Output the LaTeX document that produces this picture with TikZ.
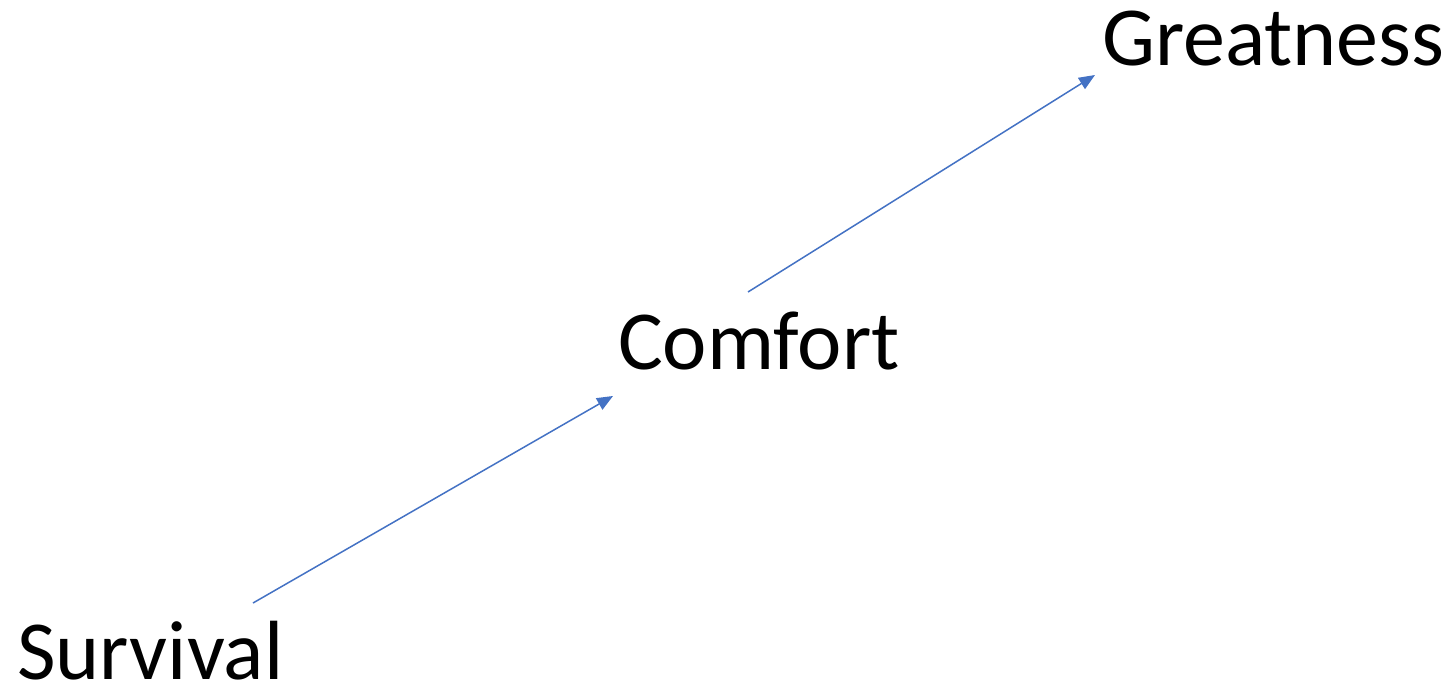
\documentclass[tikz,border=0pt]{standalone}
\usepackage{fontspec}
\setmainfont{Carlito}
\usetikzlibrary{arrows.meta}
\definecolor{arrowblue}{HTML}{4472C4}
\tikzset{
  label/.style={anchor=base west, inner sep=0pt, text depth=0pt, font=\fontsize{84bp}{100bp}\selectfont},
  link/.style={draw=arrowblue, line width=1.5bp, -{Triangle[length=16bp,width=13bp]}, fill=arrowblue}
}
\begin{document}
\begin{tikzpicture}[x=1bp,y=-1bp]
\useasboundingbox (0,0) rectangle (1455,685);
\node[label] (survival) at (17,679) {Survival};
\node[label] (comfort) at (618,369) {Comfort};
\node[label] (greatness) at (1102,66) {Greatness};
\coordinate (s1) at (253,603);
\coordinate (e1) at (613,396);
\coordinate (s2) at (748,292);
\coordinate (e2) at (1095,75);
\draw[link] (s1) -- (e1);
\draw[link] (s2) -- (e2);
\end{tikzpicture}
\end{document}
